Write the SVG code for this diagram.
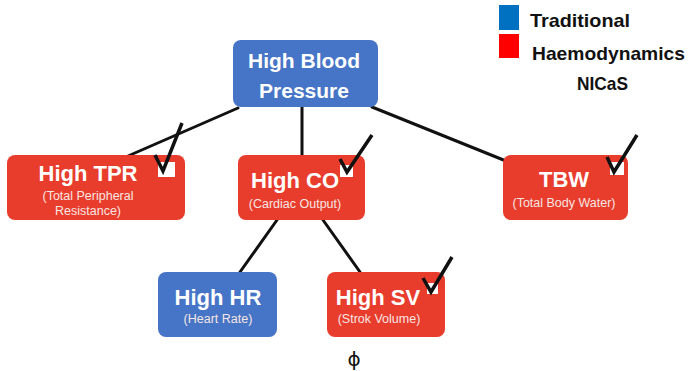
<svg xmlns="http://www.w3.org/2000/svg" width="690" height="371" viewBox="0 0 690 371">
<style>
.blue{fill:#4674c6}
.red{fill:#e83c2c}
.t{font-family:"Liberation Sans",Arial,sans-serif;font-weight:bold;fill:#fff;text-anchor:middle}
.s{font-family:"Liberation Sans",Arial,sans-serif;font-size:12.5px;fill:#f6e6e2;text-anchor:middle}
.lg{font-family:"Liberation Sans",Arial,sans-serif;font-weight:bold;font-size:19px;fill:#111}
.conn{stroke:#111;stroke-width:3;fill:none;stroke-linecap:round}
.chk{stroke:#111;stroke-width:3.5;fill:none;stroke-linejoin:miter}
.box{fill:#fff}
</style>
<rect width="690" height="371" fill="#fff"/>
<g id="legend">
<rect x="499" y="5" width="20" height="25" fill="#0070c0"/>
<rect x="499" y="34" width="20" height="24" fill="#ff0000"/>
<text class="lg" x="530" y="27" textLength="100" lengthAdjust="spacingAndGlyphs">Traditional</text>
<text class="lg" x="532" y="60" textLength="153" lengthAdjust="spacingAndGlyphs">Haemodynamics</text>
<text class="lg" x="577" y="90" textLength="51" lengthAdjust="spacingAndGlyphs">NICaS</text>
</g>
<g id="connectors">
<line class="conn" x1="238" y1="108" x2="128" y2="156"/>
<line class="conn" x1="302" y1="107" x2="302" y2="155"/>
<line class="conn" x1="372" y1="107" x2="506" y2="161"/>
<line class="conn" x1="277" y1="220" x2="240" y2="272"/>
<line class="conn" x1="323" y1="220" x2="360" y2="272"/>
</g>
<g id="hbp">
<rect class="blue" x="233" y="40" width="145" height="67" rx="8"/>
<text class="t" x="304" y="68" font-size="21">High Blood</text>
<text class="t" x="304" y="98" font-size="21">Pressure</text>
</g>
<g id="tpr">
<rect class="red" x="7" y="155" width="178" height="65" rx="8"/>
<text class="t" x="88" y="181" font-size="22">High TPR</text>
<text class="s" x="88" y="200">(Total Peripheral</text>
<text class="s" x="88" y="215">Resistance)</text>
<rect class="box" x="158" y="162" width="17" height="15"/>
<path class="chk" d="M155,155 L163,171 L182,123"/>
</g>
<g id="co">
<rect class="red" x="238" y="155" width="127" height="65" rx="8"/>
<text class="t" x="295" y="188" font-size="22">High CO</text>
<text class="s" x="295" y="208">(Cardiac Output)</text>
<rect class="box" x="340" y="165" width="13" height="12"/>
<path class="chk" d="M340,159 L347,172 L372,135"/>
</g>
<g id="tbw">
<rect class="red" x="503" y="155" width="125" height="65" rx="8"/>
<text class="t" x="564" y="187" font-size="22">TBW</text>
<text class="s" x="564" y="207">(Total Body Water)</text>
<rect class="box" x="610" y="162" width="14" height="13"/>
<path class="chk" d="M607,157 L614,172 L637,135"/>
</g>
<g id="hr">
<rect class="blue" x="158" y="272" width="119" height="65" rx="8"/>
<text class="t" x="218" y="305" font-size="22">High HR</text>
<text class="s" x="218" y="323">(Heart Rate)</text>
</g>
<g id="sv">
<rect class="red" x="327" y="272" width="118" height="65" rx="8"/>
<text class="t" x="378" y="305" font-size="22">High SV</text>
<text class="s" x="379" y="323">(Strok Volume)</text>
<rect class="box" x="427" y="283" width="11" height="11"/>
<path class="chk" d="M423,278 L431,292 L452,257"/>
</g>
<text x="354" y="366" font-family="'DejaVu Sans',sans-serif" font-size="20" text-anchor="middle" fill="#111">ϕ</text>
</svg>
